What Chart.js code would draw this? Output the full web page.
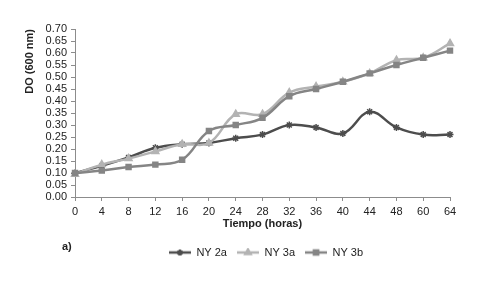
<!DOCTYPE html>
<html>
<head>
<meta charset="utf-8">
<script src="https://cdn.jsdelivr.net/npm/chart.js@4.4.1/dist/chart.umd.min.js"></script>
<style>
  html, body { margin: 0; padding: 0; background: #fff; }
</style>
</head>
<body>
<canvas id="myChart" width="487" height="281"></canvas>
<script>
// sampling times (category axis, 52 and 56 h are not in the data)
const hours = ['0', '4', '8', '12', '16', '20', '24', '28', '32', '36', '40', '44', '48', '60', '64'];
// optical density at 600 nm
const ny2a = [0.10, 0.13, 0.165, 0.205, 0.22, 0.225, 0.245, 0.26, 0.30, 0.29, 0.265, 0.355, 0.29, 0.26, 0.26];
const ny3a = [0.095, 0.135, 0.16, 0.19, 0.22, 0.225, 0.345, 0.345, 0.435, 0.46, 0.48, 0.515, 0.57, 0.58, 0.64];
const ny3b = [0.10, 0.11, 0.125, 0.135, 0.155, 0.275, 0.30, 0.33, 0.42, 0.45, 0.48, 0.515, 0.55, 0.58, 0.61];
const seriesNames = ['NY 2a', 'NY 3a', 'NY 3b'];

const colors = ['#4d4d4d', '#b3b3b3', '#858585'];
const markers = ['star', 'triangle', 'rect'];
const radii = [3.5, 4, 3.5];
const fontFam = "'Liberation Sans', Arial, sans-serif";

// small canvas with line + marker, used as the legend symbol
function legendSymbol(i) {
  const c = document.createElement('canvas');
  c.width = 22; c.height = 10;
  const g = c.getContext('2d');
  g.strokeStyle = colors[i];
  g.lineWidth = 2.5;
  g.beginPath(); g.moveTo(0, 5); g.lineTo(22, 5); g.stroke();
  g.fillStyle = colors[i];
  g.strokeStyle = colors[i];
  Chart.helpers.drawPoint(g, {pointStyle: markers[i], radius: 3, borderWidth: 1.5}, 11, 5);
  return c;
}

const allData = [ny2a, ny3a, ny3b];
const datasets = allData.map(function(d, i) {
  return {
    label: seriesNames[i],
    data: d,
    borderColor: colors[i],
    backgroundColor: colors[i],
    borderWidth: 2.5,
    pointStyle: markers[i],
    pointRadius: radii[i],
    pointBorderWidth: 1.5,
    tension: 0.4,
    order: 3 - i
  };
});

const extras = {
  id: 'extras',
  afterLayout(chart) {
    // legend sits a little right of the canvas centre
    chart.legend.left += 41;
    chart.legend.right += 41;
  },
  afterDraw(chart) {
    const ctx = chart.ctx;
    ctx.save();
    ctx.font = 'bold 11px ' + fontFam;
    ctx.fillStyle = '#222';
    ctx.textBaseline = 'middle';
    ctx.fillText('a)', 62, 247);
    ctx.restore();
  }
};

const axisGrid = {display: true, drawOnChartArea: false, drawTicks: true, tickLength: 4, color: '#8c8c8c'};

new Chart(document.getElementById('myChart'), {
  type: 'line',
  data: {labels: hours, datasets: datasets},
  options: {
    responsive: false,
    animation: false,
    layout: {padding: {top: 29, right: 37, bottom: 13, left: 0}},
    plugins: {
      tooltip: {enabled: false},
      legend: {
        position: 'bottom',
        labels: {
          color: '#222',
          font: {size: 11, family: fontFam},
          padding: 10,
          usePointStyle: true,
          pointStyleWidth: 22,
          generateLabels: function(chart) {
            return seriesNames.map(function(n, i) {
              return {text: n, pointStyle: legendSymbol(i), fillStyle: colors[i], strokeStyle: colors[i], lineWidth: 0, datasetIndex: i, hidden: false, fontColor: '#222'};
            });
          }
        }
      }
    },
    scales: {
      x: {
        offset: false,
        grid: axisGrid,
        border: {color: '#8c8c8c'},
        ticks: {color: '#222', font: {size: 11, family: fontFam}, padding: 4, maxRotation: 0, autoSkip: false},
        title: {display: true, text: 'Tiempo (horas)', color: '#222', font: {size: 11, weight: 'bold', family: fontFam}, padding: {top: 0, bottom: 6}},
        afterFit: function(s) { s.height = 40; }
      },
      y: {
        min: 0,
        max: 0.7,
        grid: axisGrid,
        border: {color: '#8c8c8c'},
        ticks: {stepSize: 0.05, autoSkip: false, color: '#222', font: {size: 11, family: fontFam}, padding: 4,
          callback: function(v) { return Number(v).toFixed(2); }},
        title: {display: true, text: 'DO (600 nm)', align: 'end', color: '#222', font: {size: 11, weight: 'bold', family: fontFam}, padding: {top: 23, bottom: 0}},
        afterFit: function(s) { s.width = 75; }
      }
    }
  },
  plugins: [extras]
});
</script>
</body>
</html>
